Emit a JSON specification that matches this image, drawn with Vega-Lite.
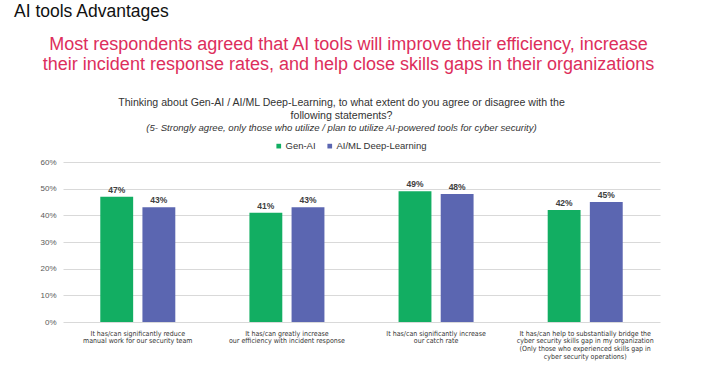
{
  "$schema": "https://vega.github.io/schema/vega-lite/v6.json",
  "padding": {"left": 5, "top": 2, "right": 5, "bottom": 5},
  "background": "white",
  "config": {"font": "Liberation Sans", "view": {"stroke": null}, "concat": {"spacing": 0}},
  "title": {"text": "AI tools Advantages", "anchor": "start", "fontSize": 17.5, "fontWeight": "normal", "color": "#111111", "dx": 9, "dy": -3, "offset": 13},
  "vconcat": [
    {
      "title": {
        "text": ["Most respondents agreed that AI tools will improve their efficiency, increase", "their incident response rates, and help close skills gaps in their organizations"],
        "color": "#DD2E5C", "fontSize": 18, "fontWeight": "normal", "anchor": "middle", "lineHeight": 19.5, "offset": 24, "dx": 16
      },
      "vconcat": [
        {
          "title": {
            "text": ["Thinking about Gen-AI / AI/ML Deep-Learning, to what extent do you agree or disagree with the", "following statements?"],
            "subtitle": "(5- Strongly agree, only those who utilize / plan to utilize AI-powered tools for cyber security)",
            "fontSize": 10.6, "color": "#333333", "fontWeight": "normal", "lineHeight": 13, "anchor": "middle",
            "subtitleFontStyle": "italic", "subtitleFontSize": 9.6, "subtitleColor": "#333333", "subtitlePadding": 2, "offset": 25, "dx": -20
          },
          "width": 597,
          "height": 160,
          "data": {
            "values": [
              {"statement": "It has/can significantly reduce|manual work for our security team", "series": "Gen-AI", "value": 0.47},
              {"statement": "It has/can significantly reduce|manual work for our security team", "series": "AI/ML Deep-Learning", "value": 0.43},
              {"statement": "It has/can greatly increase|our efficiency with incident response", "series": "Gen-AI", "value": 0.41},
              {"statement": "It has/can greatly increase|our efficiency with incident response", "series": "AI/ML Deep-Learning", "value": 0.43},
              {"statement": "It has/can significantly increase|our catch rate", "series": "Gen-AI", "value": 0.49},
              {"statement": "It has/can significantly increase|our catch rate", "series": "AI/ML Deep-Learning", "value": 0.48},
              {"statement": "It has/can help to substantially bridge the|cyber security skills gap in my organization|(Only those who experienced skills gap in|cyber security operations)", "series": "Gen-AI", "value": 0.42},
              {"statement": "It has/can help to substantially bridge the|cyber security skills gap in my organization|(Only those who experienced skills gap in|cyber security operations)", "series": "AI/ML Deep-Learning", "value": 0.45}
            ]
          },
          "encoding": {
            "x": {
              "field": "statement", "type": "nominal", "sort": null, "title": null,
              "scale": {"paddingInner": 0.497, "paddingOuter": 0.25},
              "axis": {"labelExpr": "split(datum.value, '|')", "labelAngle": 0, "ticks": false, "domain": false, "labelFontSize": 7, "labelColor": "#333333", "labelFont": "DejaVu Sans Condensed, Liberation Sans", "labelLimit": 300, "labelPadding": 7, "labelLineHeight": 7.8}
            },
            "xOffset": {"field": "series", "type": "nominal", "sort": ["Gen-AI", "AI/ML Deep-Learning"], "scale": {"paddingInner": 0.22, "paddingOuter": 0}},
            "y": {
              "field": "value", "type": "quantitative", "title": null,
              "scale": {"domain": [0, 0.6]},
              "axis": {"format": ".0%", "values": [0, 0.1, 0.2, 0.3, 0.4, 0.5, 0.6], "ticks": false, "domain": false, "gridColor": "#d9d9d9", "labelFontSize": 8, "labelColor": "#595959", "labelPadding": 7, "minExtent": 58}
            }
          },
          "layer": [
            {
              "mark": {"type": "bar"},
              "encoding": {
                "color": {
                  "field": "series", "type": "nominal",
                  "scale": {"domain": ["Gen-AI", "AI/ML Deep-Learning"], "range": ["#12AE62", "#5B66B1"]},
                  "legend": {"orient": "none", "legendX": 211, "legendY": -21, "direction": "horizontal", "title": null, "symbolType": "square", "symbolSize": 22, "labelFontSize": 9.5, "labelColor": "#333333", "columnPadding": 9, "labelOffset": 2}
                }
              }
            },
            {
              "mark": {"type": "text", "dy": -7, "fontSize": 8.5, "fontWeight": "bold", "color": "#404040"},
              "encoding": {"text": {"field": "value", "type": "quantitative", "format": ".0%"}}
            }
          ]
        }
      ]
    }
  ]
}
